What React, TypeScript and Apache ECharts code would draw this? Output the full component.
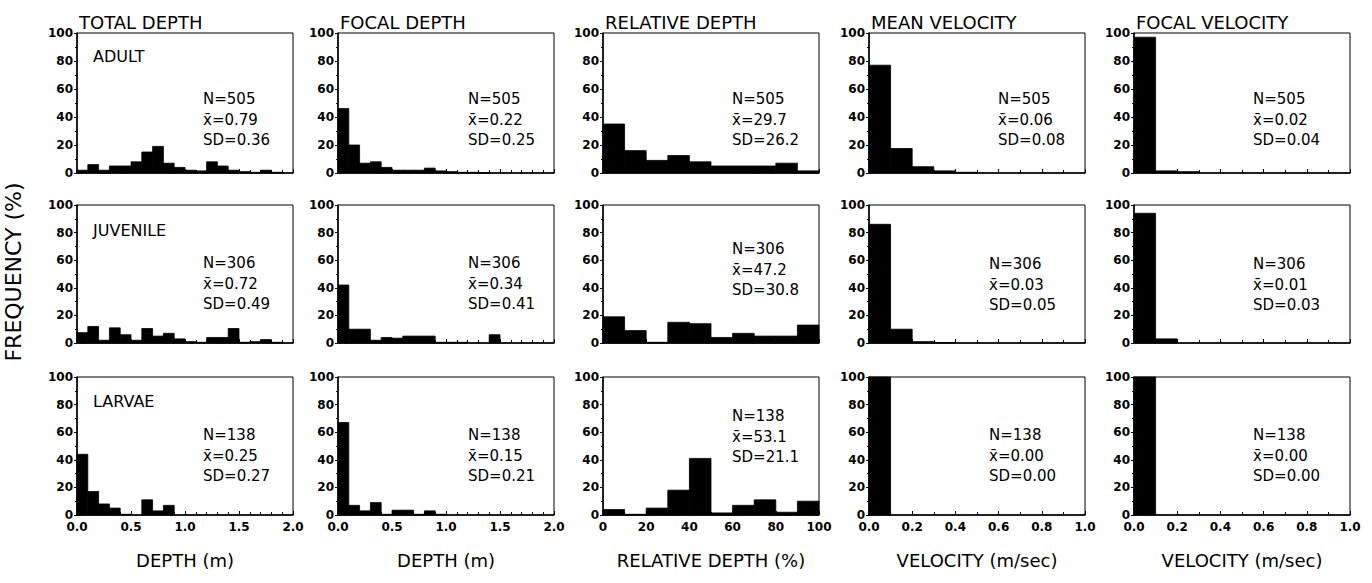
import React, { useEffect, useRef } from "react";
import * as echarts from "echarts";

const columnTitles = ["TOTAL DEPTH", "FOCAL DEPTH", "RELATIVE DEPTH", "MEAN VELOCITY", "FOCAL VELOCITY"];
const stageLabels = ["ADULT", "JUVENILE", "LARVAE"];
const xAxisNames = ["DEPTH (m)", "DEPTH (m)", "RELATIVE DEPTH (%)", "VELOCITY (m/sec)", "VELOCITY (m/sec)"];
const xMax = [2, 2, 100, 1, 1];
const xInterval = [0.5, 0.5, 20, 0.2, 0.2];
const xMinorSplit = [5, 5, 2, 2, 2];
const xDecimals = [1, 1, 0, 1, 1];
const binWidth = [0.1, 0.1, 10, 0.1, 0.1];

// frequencies (%) per bin
const totalDepthAdult = [2, 6, 2, 5, 5, 8, 15, 19, 7, 4, 2, 1.5, 8, 5, 2, 1, 0.5, 2, 0.5, 0];
const focalDepthAdult = [46, 20, 7, 8, 4, 2, 2, 2, 3.5, 1.5, 1, 0.5, 0.5, 0.3, 0, 0, 0, 0, 0, 0];
const relDepthAdult = [35, 16, 9, 12.5, 8, 5, 5, 5, 7, 1.5];
const meanVelAdult = [77, 17.5, 4.5, 1.5, 0.5, 0, 0, 0, 0, 0];
const focalVelAdult = [97, 1.5, 1, 0, 0, 0, 0, 0, 0, 0];

const totalDepthJuvenile = [7.5, 12, 2, 11, 6, 2, 10.5, 5, 7, 3, 1, 0.5, 4, 4, 10.5, 0.5, 1, 2.5, 0.5, 0];
const focalDepthJuvenile = [42, 10, 10, 2, 4, 3.5, 5, 5, 5, 0.5, 0.5, 0.5, 0, 0, 6, 0, 0, 0, 0, 0];
const relDepthJuvenile = [19, 9, 0.5, 15, 14, 4, 7, 5, 5, 13];
const meanVelJuvenile = [86, 10, 1, 0.3, 0, 0, 0, 0, 0, 0];
const focalVelJuvenile = [94, 3, 0, 0, 0, 0, 0, 0, 0, 0];

const totalDepthLarvae = [44, 17, 8, 5, 0.5, 0, 11, 3, 7, 0, 0, 0, 0, 0, 0, 0, 0, 0, 0, 0];
const focalDepthLarvae = [67, 7, 3, 9, 0.5, 3.5, 3.5, 0.5, 3, 0.5, 0, 0, 0, 0, 0, 0, 0, 0, 0, 0];
const relDepthLarvae = [4, 0.5, 5, 18, 41, 1.5, 7, 11, 2, 10];
const meanVelLarvae = [100, 0, 0, 0, 0, 0, 0, 0, 0, 0];
const focalVelLarvae = [100, 0, 0, 0, 0, 0, 0, 0, 0, 0];

const panelValues = [
  [totalDepthAdult, focalDepthAdult, relDepthAdult, meanVelAdult, focalVelAdult],
  [totalDepthJuvenile, focalDepthJuvenile, relDepthJuvenile, meanVelJuvenile, focalVelJuvenile],
  [totalDepthLarvae, focalDepthLarvae, relDepthLarvae, meanVelLarvae, focalVelLarvae],
];

const sampleSizes = ["505", "306", "138"];
const means = [
  ["0.79", "0.22", "29.7", "0.06", "0.02"],
  ["0.72", "0.34", "47.2", "0.03", "0.01"],
  ["0.25", "0.15", "53.1", "0.00", "0.00"],
];
const sds = [
  ["0.36", "0.25", "26.2", "0.08", "0.04"],
  ["0.49", "0.41", "30.8", "0.05", "0.03"],
  ["0.27", "0.21", "21.1", "0.00", "0.00"],
];

// layout
const colLeft = [77, 338, 603, 869, 1134];
const colWidth = 216;
const rowTop = [33, 205, 377];
const rowHeight = [140, 138, 138];
const statsX = [
  [126, 130, 129, 129, 119],
  [126, 130, 129, 120, 119],
  [126, 130, 129, 120, 119],
];
const statsY = [
  [99, 99, 99, 99, 99],
  [263, 263, 249, 264, 264],
  [435, 435, 416, 435, 435],
];
const statsGap = 20.5;
const stageY = [56, 230, 401];

const FONT = "DejaVu Sans";

export default function App() {
  const ref = useRef<HTMLDivElement>(null);
  useEffect(() => {
    if (!ref.current) return;
    const chart = echarts.init(ref.current, undefined, { renderer: "svg" });
    const grids: any[] = [];
    const xAxes: any[] = [];
    const yAxes: any[] = [];
    const series: any[] = [];
    const graphic: any[] = [];
    let idx = 0;
    for (let r = 0; r < 3; r++) {
      for (let c = 0; c < 5; c++) {
        grids.push({
          left: colLeft[c],
          top: rowTop[r],
          width: colWidth,
          height: rowHeight[r],
          show: true,
          borderColor: "#000",
          borderWidth: 1,
          backgroundColor: "transparent",
        });
        const dec = xDecimals[c];
        xAxes.push({
          type: "value",
          gridIndex: idx,
          min: 0,
          max: xMax[c],
          interval: xInterval[c],
          axisLine: { show: true, onZero: false, lineStyle: { color: "#000", width: 1.5 } },
          axisTick: { show: true, inside: true, length: 4, lineStyle: { color: "#000" } },
          minorTick: { show: true, splitNumber: xMinorSplit[c], length: 3, lineStyle: { color: "#000" } },
          splitLine: { show: false },
          axisLabel: {
            show: r === 2,
            color: "#000",
            fontFamily: FONT,
            fontWeight: "bold",
            fontSize: 12,
            margin: 6,
            showMinLabel: true,
            showMaxLabel: true,
            formatter: (v: number) => v.toFixed(dec),
          },
          name: r === 2 ? xAxisNames[c] : "",
          nameLocation: "middle",
          nameGap: 36,
          nameTextStyle: { color: "#000", fontFamily: FONT, fontSize: 18 },
        });
        yAxes.push({
          type: "value",
          gridIndex: idx,
          min: 0,
          max: 100,
          interval: 20,
          axisLine: { show: true, lineStyle: { color: "#000", width: 1.5 } },
          axisTick: { show: true, inside: false, length: 3, lineStyle: { color: "#000" } },
          minorTick: { show: true, splitNumber: 2, length: 2, lineStyle: { color: "#000" } },
          splitLine: { show: false },
          axisLabel: { color: "#000", fontFamily: FONT, fontWeight: "bold", fontSize: 12, margin: 4 },
        });
        const vals = panelValues[r][c];
        const bw = binWidth[c];
        series.push({
          type: "custom",
          xAxisIndex: idx,
          yAxisIndex: idx,
          encode: { x: [0, 1], y: 2 },
          data: vals.map((v, i) => [i * bw, (i + 1) * bw, v]),
          renderItem: (_p: any, api: any) => {
            const x0 = api.value(0);
            const x1 = api.value(1);
            const y = api.value(2);
            if (!(y > 0)) return { type: "group", children: [] };
            const p0 = api.coord([x0, y]);
            const p1 = api.coord([x1, 0]);
            return {
              type: "rect",
              shape: { x: p0[0], y: p0[1], width: p1[0] - p0[0], height: p1[1] - p0[1] },
              style: { fill: "#000", stroke: "#000", lineWidth: 0.8 },
            };
          },
        });
        // stats
        const sx = colLeft[c] + statsX[r][c];
        const lines = ["N=" + sampleSizes[r], "x\u0304=" + means[r][c], "SD=" + sds[r][c]];
        lines.forEach((t, k) => {
          graphic.push({
            type: "text",
            x: sx,
            y: statsY[r][c] + k * statsGap,
            style: {
              text: t,
              fill: "#000",
              font: `15px "${FONT}"`,
              textAlign: "left",
              textVerticalAlign: "middle",
              align: "left",
              verticalAlign: "middle",
            },
          });
        });
        idx++;
      }
      graphic.push({
        type: "text",
        x: 93,
        y: stageY[r],
        style: {
          text: stageLabels[r],
          fill: "#000",
          font: `16px "${FONT}"`,
          textAlign: "left",
          textVerticalAlign: "middle",
          align: "left",
          verticalAlign: "middle",
        },
      });
    }
    for (let c = 0; c < 5; c++) {
      graphic.push({
        type: "text",
        x: colLeft[c] + 2,
        y: 31,
        style: {
          text: columnTitles[c],
          fill: "#000",
          font: `18px "${FONT}"`,
          textAlign: "left",
          textVerticalAlign: "bottom",
          align: "left",
          verticalAlign: "bottom",
        },
      });
    }
    graphic.push({
      type: "text",
      x: 13,
      y: 272,
      rotation: Math.PI / 2,
      style: {
        text: "FREQUENCY (%)",
        fill: "#000",
        font: `22px "${FONT}"`,
        textAlign: "center",
        textVerticalAlign: "middle",
        align: "center",
        verticalAlign: "middle",
      },
    });

    chart.setOption({
      animation: false,
      backgroundColor: "#fff",
      grid: grids,
      xAxis: xAxes,
      yAxis: yAxes,
      series,
      graphic,
    });
    return () => chart.dispose();
  }, []);
  return (
    <div
      ref={ref}
      style={{ position: "fixed", left: 0, top: 0, width: 1372, height: 583, background: "#fff" }}
    />
  );
}
